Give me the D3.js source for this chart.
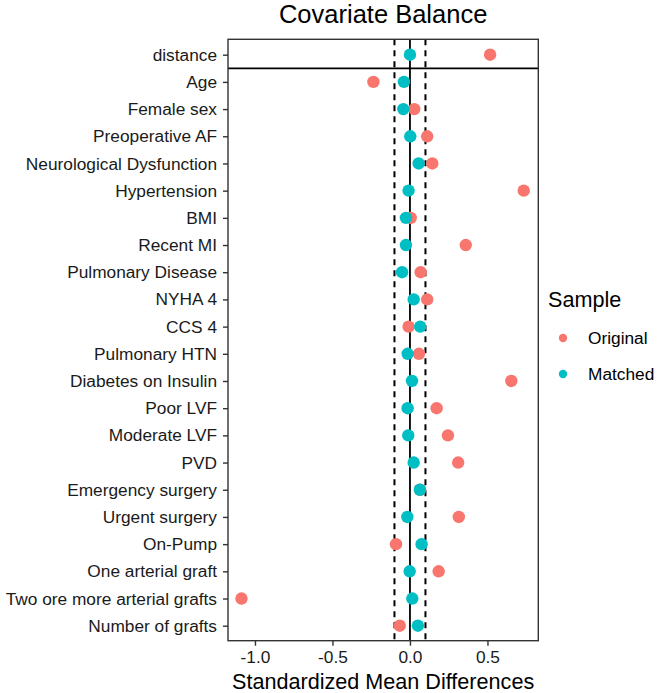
<!DOCTYPE html>
<html><head><meta charset="utf-8">
<script src="https://cdn.jsdelivr.net/npm/d3@7"></script>
<style>body{margin:0;background:#fff}svg{display:block}text{font-family:"Liberation Sans",Arial,Helvetica,sans-serif}</style>
</head><body>
<svg id="chart" width="660" height="693"></svg>
<script>
const categories = ["distance","Age","Female sex","Preoperative AF","Neurological Dysfunction","Hypertension","BMI","Recent MI","Pulmonary Disease","NYHA 4","CCS 4","Pulmonary HTN","Diabetes on Insulin","Poor LVF","Moderate LVF","PVD","Emergency surgery","Urgent surgery","On-Pump","One arterial graft","Two ore more arterial grafts","Number of grafts"];
const original = [0.517,-0.236,0.028,0.111,0.144,0.734,0.005,0.360,0.069,0.111,-0.009,0.058,0.654,0.172,0.245,0.311,0.065,0.315,-0.090,0.185,-1.087,-0.066];
const matched = [0.000,-0.039,-0.043,0.002,0.056,-0.009,-0.026,-0.026,-0.051,0.024,0.066,-0.015,0.013,-0.015,-0.011,0.024,0.064,-0.017,0.075,-0.002,0.015,0.051];
const xTicks = [-1.0,-0.5,0.0,0.5];
const thresholds = [-0.1,0.1];
const seriesNames = ["Original","Matched"];
const colors = ["#F8766D","#00BFC4"];

const svg = d3.select("#chart");
const L = 228, R = 538.3, T = 39.3, B = 640.7;
const x = d3.scaleLinear().domain([-1.174, 0.828]).range([L, R]);
const y = d3.scalePoint().domain(categories).range([54.7, 625.7]);

// title
svg.append("text").attr("x", (L+R)/2).attr("y", 23).attr("text-anchor","middle")
  .attr("font-size", 25.5).attr("fill","#000").text("Covariate Balance");

// reference lines
svg.append("line").attr("x1", x(0)).attr("x2", x(0)).attr("y1", T).attr("y2", B)
  .attr("stroke","#000").attr("stroke-width",1.8);
thresholds.forEach(t => {
  svg.append("line").attr("x1", x(t)).attr("x2", x(t)).attr("y1", T).attr("y2", B)
    .attr("stroke","#000").attr("stroke-width",2).attr("stroke-dasharray","6,5");
});
// separator between distance and Age
const sepY = (y(categories[0]) + y(categories[1])) / 2;
svg.append("line").attr("x1", L).attr("x2", R).attr("y1", sepY).attr("y2", sepY)
  .attr("stroke","#000").attr("stroke-width",1.8);

// points
const data = [];
categories.forEach((c,i) => {
  data.push({cat:c, v: original[i], s:0});
});
categories.forEach((c,i) => {
  data.push({cat:c, v: matched[i], s:1});
});
svg.append("g").selectAll("circle").data(data).join("circle")
  .attr("cx", d => x(d.v)).attr("cy", d => y(d.cat)).attr("r", 6.2)
  .attr("fill", d => colors[d.s]);

// panel border
svg.append("rect").attr("x", L).attr("y", T).attr("width", R-L).attr("height", B-T)
  .attr("fill","none").attr("stroke","#333").attr("stroke-width",1.4);

// y axis
const yAxis = svg.append("g").attr("transform", `translate(${L},0)`)
  .call(d3.axisLeft(y).tickSize(5).tickPadding(6));
yAxis.select(".domain").remove();
yAxis.selectAll(".tick line").attr("stroke","#333").attr("stroke-width",1.4);
yAxis.selectAll(".tick text").attr("font-size",17.3).attr("fill","#1a1a1a")
  .attr("font-family","Liberation Sans, Arial, sans-serif");

// x axis
const xAxis = svg.append("g").attr("transform", `translate(0,${B})`)
  .call(d3.axisBottom(x).tickValues(xTicks).tickFormat(d3.format(".1f")).tickSize(5).tickPadding(5));
xAxis.select(".domain").remove();
xAxis.selectAll(".tick line").attr("stroke","#333").attr("stroke-width",1.4);
xAxis.selectAll(".tick text").attr("font-size",17.3).attr("fill","#1a1a1a")
  .attr("font-family","Liberation Sans, Arial, sans-serif")
  .text(d => d3.format(".1f")(d).replace("−","-"));

svg.append("text").attr("x", (L+R)/2).attr("y", 689).attr("text-anchor","middle")
  .attr("font-size", 21.6).attr("fill","#000").text("Standardized Mean Differences");

// legend
const lg = svg.append("g");
lg.append("text").attr("x", 548).attr("y", 307).attr("font-size", 21.6).attr("fill","#000").text("Sample");
seriesNames.forEach((n,i) => {
  const cy = 338 + i*36;
  lg.append("circle").attr("cx", 563).attr("cy", cy).attr("r", 4.2).attr("fill", colors[i]);
  lg.append("text").attr("x", 588).attr("y", cy + 6).attr("font-size", 17.3).attr("fill","#000").text(n);
});
</script>
</body></html>
